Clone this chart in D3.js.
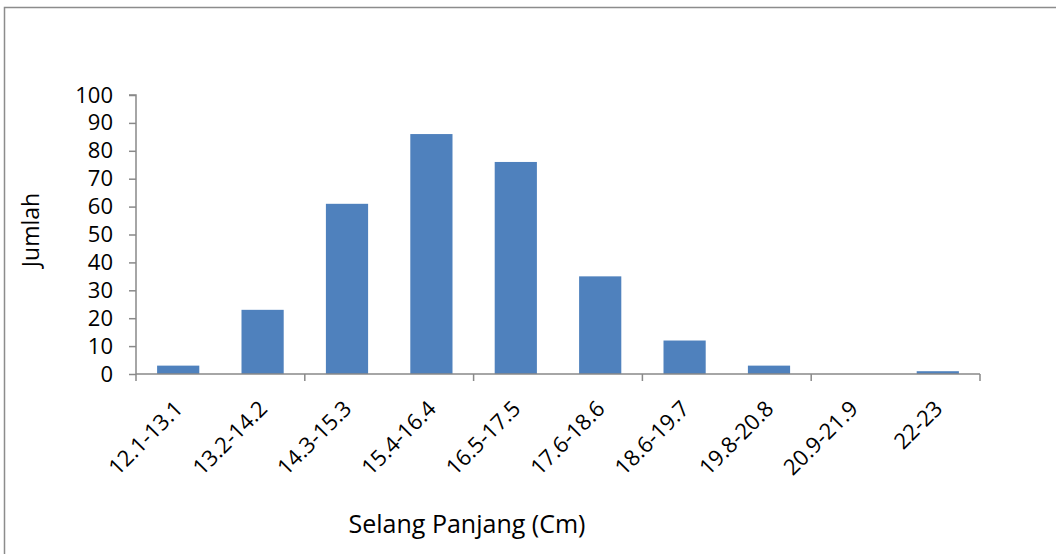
<!DOCTYPE html>
<html><head><meta charset="utf-8">
<script src="https://cdn.jsdelivr.net/npm/d3@7"></script>
<style>body{margin:0;background:#fff}svg{display:block}</style>
</head><body>
<script>
const categories = ["12.1-13.1","13.2-14.2","14.3-15.3","15.4-16.4","16.5-17.5","17.6-18.6","18.6-19.7","19.8-20.8","20.9-21.9","22-23"];
const values = [3, 23, 61, 86, 76, 35, 12, 3, 0, 1];
const yTicks = [0,10,20,30,40,50,60,70,80,90,100];
const yTitle = "Jumlah";
const xTitle = "Selang Panjang (Cm)";

(function(){
const W = 1056, H = 554;
const svg = d3.select("body").append("svg").attr("width", W).attr("height", H);
const font = "'Open Sans', 'Noto Sans', sans-serif";
const axisColor = "#898989";

// outer border (top and left)
svg.append("path").attr("d", "M4.5,554 L4.5,7.5 L1056,7.5").attr("fill","none").attr("stroke","#8c8c8c").attr("stroke-width",1.5);

const pl = 136, pr = 980, pt = 95, pb = 374;
const x = d3.scaleBand().domain(categories).range([pl, pr]).paddingInner(0.5).paddingOuter(0.25);
const y = d3.scaleLinear().domain([0, 100]).range([pb, pt]);

// bars
svg.selectAll("rect.bar").data(values).enter().append("rect")
  .attr("x", (d,i) => x(categories[i]))
  .attr("width", x.bandwidth())
  .attr("y", d => y(d))
  .attr("height", d => y(0) - y(d))
  .attr("fill", "#4F81BD");

// y axis
const yAxis = d3.axisLeft(y).tickValues(yTicks).tickSize(7).tickPadding(16);
const gy = svg.append("g").attr("transform", `translate(${pl},0)`).call(yAxis);
gy.select(".domain").attr("stroke", axisColor).attr("stroke-width", 1.5).attr("d", `M-7,${pt}H0V${pb}`);
gy.selectAll(".tick line").attr("stroke", axisColor).attr("stroke-width", 1.5);
gy.selectAll(".tick text").attr("font-family", font).attr("font-size", 22).attr("fill", "#000");

// x axis: ticks every two categories at band boundaries
const boundaries = d3.range(0, categories.length + 1, 2).map(i => pl + i * (pr - pl) / categories.length);
svg.append("line").attr("x1", pl).attr("x2", pr).attr("y1", pb).attr("y2", pb)
  .attr("stroke", axisColor).attr("stroke-width", 1.5);
svg.selectAll("line.xt").data(boundaries).enter().append("line")
  .attr("x1", d => d).attr("x2", d => d).attr("y1", pb).attr("y2", pb + 7)
  .attr("stroke", axisColor).attr("stroke-width", 1.5);

// x labels rotated -45
svg.selectAll("text.xl").data(categories).enter().append("text")
  .attr("transform", d => `translate(${x(d) + x.bandwidth()/2 + 6},${pb + 36}) rotate(-45)`)
  .attr("text-anchor", "end")
  .attr("font-family", font).attr("font-size", 22).attr("fill", "#000")
  .text(d => d);

// titles
svg.append("text").attr("transform", `translate(39,230) rotate(-90)`)
  .attr("text-anchor", "middle").attr("font-family", font).attr("font-size", 23).attr("fill","#000").text(yTitle);
svg.append("text").attr("x", 467).attr("y", 533)
  .attr("text-anchor", "middle").attr("font-family", font).attr("font-size", 25).attr("fill","#000").text(xTitle);
})();
</script>
</body></html>
